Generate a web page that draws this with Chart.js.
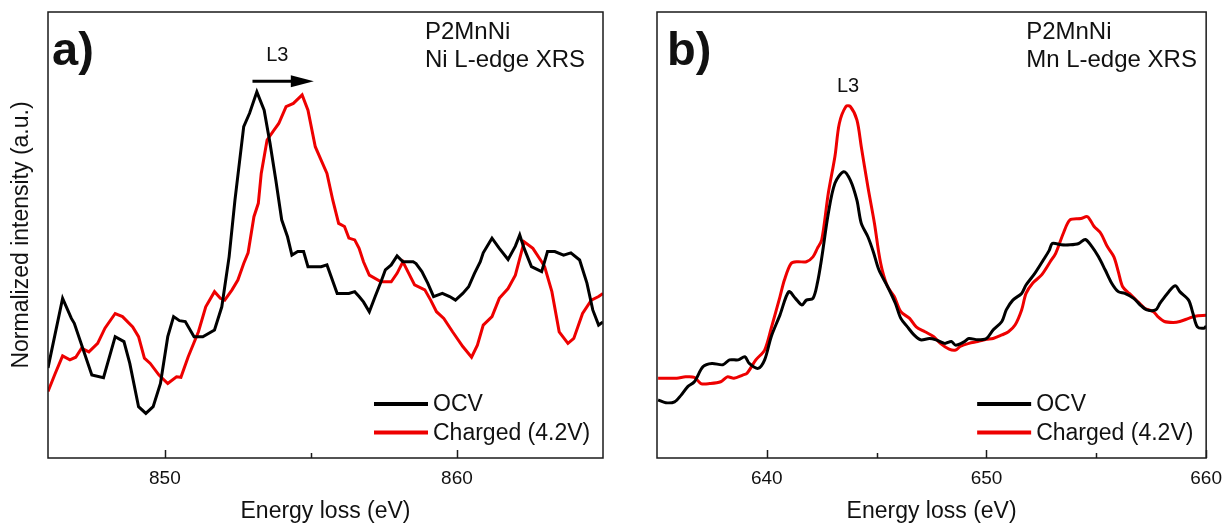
<!DOCTYPE html>
<html>
<head>
<meta charset="utf-8">
<script src="https://cdn.jsdelivr.net/npm/chart.js@4/dist/chart.umd.min.js"></script>
<style>
  html, body { margin: 0; padding: 0; background: #ffffff; }
  body { width: 1231px; height: 523px; position: relative; overflow: hidden; }
  canvas { position: absolute; top: 0; }
  #niChart { left: 0; }
  #mnChart { left: 615px; }
</style>
</head>
<body>
<canvas id="niChart" width="615" height="523"></canvas>
<canvas id="mnChart" width="616" height="523"></canvas>
<script>
// ---- Ni L-edge spectra (energy loss in eV, normalized intensity) ----
const niEnergyOcv = [846.0, 846.5, 846.8, 846.9, 847.5, 847.9, 848.3, 848.6, 848.8, 849.1, 849.35, 849.6, 849.85, 850.1, 850.3, 850.5, 850.7, 851.0, 851.3, 851.7, 851.95, 852.2, 852.4, 852.7, 852.9, 853.15, 853.4, 853.6, 853.8, 854.0, 854.2, 854.35, 854.55, 854.75, 854.9, 855.1, 855.35, 855.55, 855.9, 856.3, 856.5, 856.65, 856.8, 857.0, 857.2, 857.4, 857.55, 857.75, 857.95, 858.15, 858.5, 858.6, 858.8, 859.0, 859.2, 859.5, 859.75, 859.95, 860.2, 860.4, 860.6, 860.8, 860.9, 861.2, 861.45, 861.75, 862.0, 862.15, 862.3, 862.55, 862.9, 863.1, 863.35, 863.65, 863.9, 864.2, 864.45, 864.65, 864.85, 865.0];
const niOcv = [20.2, 35.8, 31.3, 30.2, 18.6, 18.0, 27.2, 26.1, 21.2, 11.5, 10.0, 11.5, 16.7, 27.2, 31.7, 30.8, 30.6, 27.2, 27.2, 28.7, 33.9, 45.1, 57.8, 74.3, 77.3, 82.1, 78.0, 70.6, 62.3, 53.4, 49.6, 45.5, 46.3, 46.3, 42.9, 42.9, 42.9, 43.3, 36.9, 36.9, 37.3, 36.2, 35.0, 32.8, 36.2, 39.5, 42.2, 43.3, 45.3, 44.0, 44.0, 43.6, 41.8, 39.2, 36.2, 36.9, 36.2, 35.4, 36.9, 38.4, 41.4, 44.0, 46.0, 49.3, 47.0, 44.5, 47.5, 50.0, 47.0, 42.9, 41.8, 46.3, 46.3, 45.5, 46.0, 44.4, 39.2, 33.2, 29.8, 30.5];

const niEnergyCharged = [846.0, 846.25, 846.5, 846.75, 846.95, 847.15, 847.4, 847.7, 847.95, 848.3, 848.55, 848.9, 849.1, 849.3, 849.5, 849.8, 850.1, 850.4, 850.55, 850.8, 851.15, 851.4, 851.7, 851.9, 852.05, 852.3, 852.5, 852.7, 852.85, 853.05, 853.2, 853.3, 853.5, 853.7, 853.9, 854.15, 854.4, 854.7, 854.9, 855.15, 855.35, 855.55, 855.75, 855.95, 856.15, 856.3, 856.5, 856.65, 856.8, 857.0, 857.4, 857.75, 857.95, 858.15, 858.35, 858.55, 858.9, 859.1, 859.3, 859.55, 859.85, 860.2, 860.5, 860.7, 860.9, 861.2, 861.45, 861.75, 862.0, 862.3, 862.6, 862.9, 863.0, 863.25, 863.5, 863.8, 864.0, 864.3, 864.6, 864.85, 865.0];
const niCharged = [14.9, 19.0, 22.9, 22.0, 22.6, 24.6, 23.8, 25.7, 29.1, 32.4, 31.7, 29.4, 27.2, 22.4, 21.2, 18.6, 16.7, 18.2, 18.1, 22.7, 28.3, 33.9, 37.3, 35.8, 35.4, 37.7, 39.9, 43.6, 46.0, 54.1, 57.1, 63.8, 71.3, 73.2, 75.0, 78.8, 79.5, 81.4, 78.0, 69.8, 66.8, 63.8, 57.8, 52.6, 51.9, 49.3, 48.9, 47.0, 44.0, 41.0, 39.5, 39.5, 41.4, 44.0, 41.4, 38.8, 37.7, 35.4, 32.8, 31.3, 28.3, 25.0, 22.6, 25.3, 29.8, 31.7, 35.8, 38.0, 41.0, 48.5, 47.0, 44.0, 42.9, 37.3, 28.3, 25.7, 26.8, 32.4, 35.4, 36.2, 36.9];

// ---- Mn L-edge spectra ----
const mnEnergyOcv = [635.05, 635.4, 635.8, 636.1, 636.4, 636.7, 637.1, 637.5, 638.0, 638.3, 638.7, 639.0, 639.2, 639.6, 639.9, 640.2, 640.6, 641.0, 641.3, 641.6, 641.8, 642.1, 642.3, 642.5, 642.8, 643.1, 643.5, 643.8, 644.1, 644.3, 644.6, 644.85, 645.1, 645.5, 645.85, 646.1, 646.4, 646.7, 647.0, 647.4, 647.7, 648.1, 648.4, 648.6, 649.0, 649.2, 649.6, 650.0, 650.3, 650.7, 650.9, 651.2, 651.6, 651.8, 652.2, 652.6, 652.85, 653.0, 653.4, 653.8, 654.2, 654.5, 654.8, 655.1, 655.4, 655.7, 656.0, 656.3, 656.7, 657.0, 657.3, 657.7, 657.9, 658.3, 658.6, 658.8, 659.2, 659.4, 659.6, 659.9, 660.0];
const mnOcv = [13.0, 12.4, 12.6, 14.1, 16.0, 17.1, 20.5, 21.2, 20.9, 22.0, 22.0, 22.7, 21.2, 20.1, 22.0, 27.2, 32.1, 37.3, 35.8, 34.3, 35.4, 35.8, 39.2, 44.9, 54.9, 61.6, 64.2, 62.3, 57.8, 52.6, 49.6, 46.2, 42.2, 38.4, 34.7, 31.3, 29.4, 27.6, 26.5, 26.8, 26.5, 25.7, 26.1, 25.3, 26.1, 26.8, 26.5, 26.8, 28.7, 30.6, 33.2, 35.4, 36.9, 38.8, 41.4, 44.5, 46.5, 48.1, 47.8, 47.8, 48.1, 49.0, 47.4, 45.1, 42.2, 39.2, 37.3, 36.9, 35.8, 34.3, 33.2, 33.2, 34.7, 37.3, 38.6, 37.3, 35.4, 32.4, 29.4, 29.1, 29.6];

const mnEnergyCharged = [635.05, 635.9, 636.3, 636.7, 637.0, 637.4, 637.9, 638.2, 638.5, 638.9, 639.1, 639.5, 639.9, 640.2, 640.6, 640.8, 641.1, 641.4, 641.8, 642.1, 642.3, 642.5, 642.8, 643.1, 643.3, 643.6, 643.8, 644.1, 644.3, 644.6, 644.9, 645.1, 645.25, 645.5, 645.8, 646.1, 646.5, 646.8, 647.2, 647.6, 647.9, 648.3, 648.6, 648.8, 649.2, 649.6, 650.0, 650.3, 650.7, 651.0, 651.3, 651.6, 651.8, 652.1, 652.5, 652.9, 653.15, 653.5, 653.8, 654.3, 654.6, 654.9, 655.2, 655.5, 655.8, 656.0, 656.2, 656.5, 656.9, 657.2, 657.6, 657.8, 658.1, 658.5, 658.8, 659.2, 659.5, 660.0];
const mnCharged = [17.9, 17.9, 18.2, 18.1, 16.7, 16.7, 17.1, 18.2, 17.9, 18.6, 19.0, 22.0, 24.2, 29.1, 36.2, 39.9, 43.6, 44.0, 44.0, 45.1, 47.0, 48.9, 59.4, 67.6, 75.0, 78.8, 78.8, 75.8, 69.8, 60.8, 52.6, 45.9, 42.2, 38.4, 36.2, 32.8, 31.3, 29.4, 28.3, 27.2, 25.7, 24.4, 24.2, 25.0, 25.7, 26.1, 26.6, 26.8, 27.6, 28.3, 29.8, 33.2, 36.9, 39.2, 41.0, 44.0, 45.9, 50.4, 53.4, 53.7, 54.1, 51.9, 50.4, 47.4, 45.1, 41.8, 38.4, 36.9, 35.0, 33.6, 32.8, 31.7, 30.6, 30.4, 30.6, 31.3, 31.8, 32.0];

// ---- axis ticks and text ----
const niTicks = [850, 855, 860];
const mnTicks = [640, 645, 650, 655, 660];
const seriesLabels = ['OCV', 'Charged (4.2V)'];
const seriesColors = ['#000000', '#ee0000'];
const xTitle = 'Energy loss (eV)';
const yTitle = 'Normalized intensity (a.u.)';

const FONT = "'Liberation Sans', Arial, Helvetica, sans-serif";

function pairs(xs, ys) {
  return xs.map((x, i) => ({ x: x, y: ys[i] }));
}

// frame, inward tick marks, panel texts and the line legend
const panelDecor = {
  id: 'panelDecor',
  afterDatasetsDraw(chart, args, opts) {
    const ctx = chart.ctx;
    const a = chart.chartArea;
    const xs = chart.scales.x;
    const ys = chart.scales.y;
    ctx.save();

    // frame
    ctx.strokeStyle = '#1a1a1a';
    ctx.lineWidth = 1.5;
    ctx.strokeRect(a.left, a.top, a.right - a.left, a.bottom - a.top);

    // inward ticks (long on labelled values, short between)
    xs.ticks.forEach(t => {
      const px = Math.round(xs.getPixelForValue(t.value)) + 0.5;
      const len = t.value % 10 === 0 ? 8 : 5;
      ctx.beginPath();
      ctx.moveTo(px, a.bottom);
      ctx.lineTo(px, a.bottom - len);
      ctx.stroke();
    });

    ctx.fillStyle = '#111111';
    ctx.textBaseline = 'alphabetic';

    // panel letter
    ctx.font = 'bold 47px ' + FONT;
    ctx.textAlign = 'left';
    ctx.fillText(opts.letter, a.left + opts.letterDx, a.top + 53);

    // sample / edge notes, top right
    ctx.font = '24px ' + FONT;
    ctx.textBaseline = 'middle';
    ctx.fillText(opts.notes[0], a.right - opts.notesDx, a.top + 20);
    ctx.fillText(opts.notes[1], a.right - opts.notesDx, a.top + 48);

    // L3 marker
    ctx.font = '20px ' + FONT;
    ctx.textAlign = 'center';
    ctx.fillText('L3', xs.getPixelForValue(opts.l3.x), ys.getPixelForValue(opts.l3.y));

    if (opts.arrow) {
      const x0 = xs.getPixelForValue(opts.arrow.from);
      const x1 = xs.getPixelForValue(opts.arrow.to);
      const y = ys.getPixelForValue(opts.arrow.y);
      ctx.strokeStyle = '#000000';
      ctx.lineWidth = 3;
      ctx.beginPath();
      ctx.moveTo(x0, y);
      ctx.lineTo(x1 - 18, y);
      ctx.stroke();
      ctx.fillStyle = '#000000';
      ctx.beginPath();
      ctx.moveTo(x1, y);
      ctx.lineTo(x1 - 23, y - 6);
      ctx.lineTo(x1 - 23, y + 6);
      ctx.closePath();
      ctx.fill();
    }

    // legend
    ctx.font = '23px ' + FONT;
    ctx.textAlign = 'left';
    ctx.textBaseline = 'middle';
    chart.data.datasets.forEach((ds, i) => {
      const y = a.bottom - 54 + i * 28.5;
      const lx = a.right - 229;
      ctx.strokeStyle = ds.borderColor;
      ctx.lineWidth = 4;
      ctx.beginPath();
      ctx.moveTo(lx, y);
      ctx.lineTo(lx + 54, y);
      ctx.stroke();
      ctx.fillStyle = '#111111';
      ctx.fillText(ds.label, lx + 59, y + 1);
    });

    ctx.restore();
  }
};

function makeChart(canvasId, cfg) {
  return new Chart(document.getElementById(canvasId), {
    type: 'line',
    data: {
      datasets: cfg.series.map((s, i) => ({
        label: seriesLabels[i],
        data: pairs(s[0], s[1]),
        borderColor: seriesColors[i],
        borderWidth: 3,
        pointRadius: 0,
        tension: cfg.tension,
        fill: false
      }))
    },
    options: {
      responsive: false,
      animation: false,
      events: [],
      layout: { padding: { top: 12, right: cfg.padRight, left: 0, bottom: 0 } },
      plugins: {
        legend: { display: false },
        tooltip: { enabled: false },
        panelDecor: cfg.decor
      },
      scales: {
        x: {
          type: 'linear',
          min: cfg.xmin,
          max: cfg.xmax,
          afterBuildTicks: s => { s.ticks = cfg.ticks.map(v => ({ value: v })); },
          afterFit: s => { s.height = 65; },
          grid: { display: false, drawTicks: false },
          border: { display: false },
          ticks: {
            padding: 9,
            autoSkip: false,
            maxRotation: 0,
            color: '#111111',
            font: { family: FONT, size: 19 },
            callback: v => (v % 10 === 0 ? String(v) : '')
          },
          title: {
            display: true,
            text: xTitle,
            color: '#111111',
            font: { family: FONT, size: 23, lineHeight: 1.0 },
            padding: { top: 0, bottom: 0 }
          }
        },
        y: {
          type: 'linear',
          min: 0,
          max: 100,
          afterFit: s => { s.width = cfg.yWidth; },
          grid: { display: false, drawTicks: false },
          border: { display: false },
          ticks: { display: false },
          title: {
            display: cfg.showYTitle,
            text: yTitle,
            color: '#111111',
            font: { family: FONT, size: 23, lineHeight: 1.0 },
            padding: { top: 10, bottom: 0 }
          }
        }
      }
    },
    plugins: [panelDecor]
  });
}

makeChart('niChart', {
  series: [[niEnergyOcv, niOcv], [niEnergyCharged, niCharged]],
  xmin: 846, xmax: 865, ticks: niTicks,
  tension: 0, padRight: 12, yWidth: 48, showYTitle: true,
  decor: {
    letter: 'a)', letterDx: 4,
    notes: ['P2MnNi', 'Ni L-edge XRS'], notesDx: 178,
    l3: { x: 853.85, y: 90.2 },
    arrow: { from: 853.0, to: 855.1, y: 84.5 }
  }
});

makeChart('mnChart', {
  series: [[mnEnergyOcv, mnOcv], [mnEnergyCharged, mnCharged]],
  xmin: 635, xmax: 660, ticks: mnTicks,
  tension: 0.3, padRight: 18, yWidth: 42, showYTitle: false,
  decor: {
    letter: 'b)', letterDx: 10,
    notes: ['P2MnNi', 'Mn L-edge XRS'], notesDx: 180,
    l3: { x: 643.7, y: 83.3 },
    arrow: null
  }
});
</script>
</body>
</html>
